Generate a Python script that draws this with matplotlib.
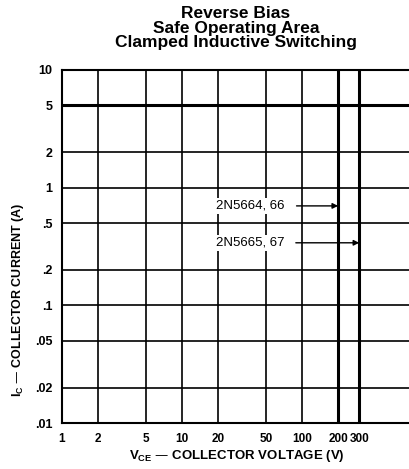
import matplotlib
matplotlib.use("Agg")
import matplotlib.pyplot as plt

# Grid values (log-log)
x_ticks = [1, 2, 5, 10, 20, 50, 100, 200, 300]
x_labels = ["1", "2", "5", "10", "20", "50", "100", "200", "300"]
y_ticks = [0.01, 0.02, 0.05, 0.1, 0.2, 0.5, 1, 2, 5, 10]
y_labels = [".01", ".02", ".05", ".1", ".2", ".5", "1", "2", "5", "10"]

# RBSOA limits: max collector current and max voltage per device pair
ic_max = 5
devices = ["2N5664, 66", "2N5665, 67"]
vce_max = [200, 300]
label_ic = [0.70, 0.34]   # where each device's callout sits
label_v = [72, 71]

font = "Liberation Sans"

fig = plt.figure(figsize=(4.09, 4.69), dpi=100)
ax = fig.add_axes([62 / 409, 46 / 469, 1 - 62 / 409, 353 / 469])
ax.set_xscale("log")
ax.set_yscale("log")
ax.set_xlim(1, 780)
ax.set_ylim(0.01, 10)

for v in x_ticks:
    ax.axvline(v, color="black", lw=1.2, zorder=1)
for i in y_ticks:
    ax.axhline(i, color="black", lw=1.2, zorder=1)

# safe operating area boundaries
ax.axhline(ic_max, color="black", lw=2.2, zorder=2)
for v in vce_max:
    ax.axvline(v, color="black", lw=2.2, zorder=2)

for name, v, ic, lv in zip(devices, vce_max, label_ic, label_v):
    ax.annotate(name, xy=(v, ic), xytext=(lv, ic), fontsize=9.5, family=font,
                ha="right", va="center", zorder=4,
                bbox=dict(boxstyle="square,pad=0.15", fc="white", ec="none"),
                arrowprops=dict(arrowstyle="-|>", color="black", lw=1.0,
                                shrinkA=7, shrinkB=0, mutation_scale=8))

ax.set_xticks(x_ticks)
ax.set_xticklabels(x_labels)
ax.set_yticks(y_ticks)
ax.set_yticklabels(y_labels)
ax.minorticks_off()
ax.tick_params(length=0, pad=7, labelsize=9)
ax.tick_params(axis="x", labelsize=8.5)
for lab in ax.get_xticklabels() + ax.get_yticklabels():
    lab.set_family(font)
    lab.set_fontweight("bold")

for s in ["left", "bottom", "top"]:
    ax.spines[s].set_linewidth(1.5)
ax.spines["right"].set_visible(False)

fig.text(18 / 409, 1 - 300 / 469, r"I$_\mathregular{C}$ — COLLECTOR CURRENT (A)",
         rotation=90, ha="center", va="center", fontsize=9, family=font,
         fontweight="bold")
fig.text(237 / 409, 1 - 456 / 469, r"V$_\mathregular{CE}$ — COLLECTOR VOLTAGE (V)",
         ha="center", va="center", fontsize=9.5, family=font, fontweight="bold")

fig.text(236 / 409, 1 - 28 / 469,
         "Reverse Bias\nSafe Operating Area\nClamped Inductive Switching",
         ha="center", va="center", fontsize=12.5, family=font,
         fontweight="bold", linespacing=1.0)

fig.savefig("out.png", dpi=100)
